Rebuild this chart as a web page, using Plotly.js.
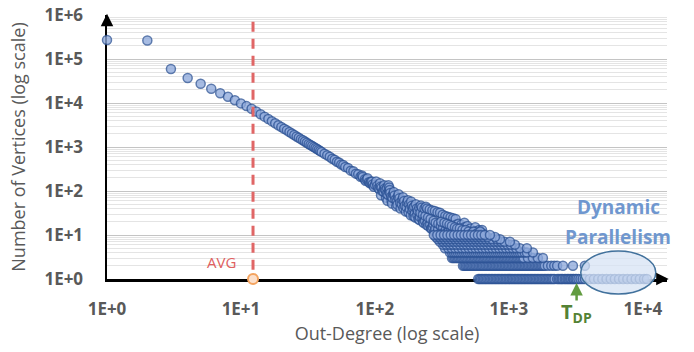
<!DOCTYPE html>
<html>
<head>
<meta charset="utf-8">
<script src="https://cdn.plot.ly/plotly-3.0.1.min.js"></script>
<style>html,body{margin:0;padding:0;background:#fff;}#chart{width:694px;height:352px;}</style>
</head>
<body>
<div id="chart"></div>
<script>
// ---- data ----
const headDegree = [1,2,3,4,5,6,7,8,9,10,11,12,13,14,15,16,17,18,19,20,21,22,23,24,25,26,27,28,29,30,31,32,33,34,35,36,37,38,39,40];
const headCount = [270000,263000,59000,37000,27500,21000,16600,13900,11500,9800,8500,7400,6400,5570,4900,4340,3870,3480,3130,2850,2600,2390,2190,2020,1870,1740,1620,1510,1420,1330,1250,1175,1110,1050,995,945,897,851,812,774];

const bandDegree = [42,44,46,48,50,52,54,56,58,60,63,66,69,72,75,78,80,81,84,85,87,88,90,92,93,95,96,98,100,
  102,104,106,108,109,110,111,112,114,116,117,118,120,121,122,123,124,125,126,127,128,129,130,132,133,134,135,137,138,140,142,144,146,147,148,150,152,154,155,158,160,162,163,165,167,170,172,174,176,178,180,182,185,186,188,190,192,194,196,198,200,202,205,207,209,211,214,215,216,218,220,224,226,228,229,230,234,236,238,240,242,245,247,249,250,256,258,260,262,265,268,270,272,274,278,280,282,284,290,293,295,297,306,308,310,320,322,324,335,337,339,350,352,354,366,368,383,385,400,402,404,420,422,424,440,442,465,467,469,490,492,515,517,560,562,600,602,630,632,
  312,330,345,360,375,395,410,430,450,475,500,530,545,580,610];
const bandCount = [700,650,600,540,515,462,445,398,390,352,335,290,282,248,240,210,225,208,184,170,182,195,158,150,162,165,141,125,139,
  165,131,115,109,150,125,80,118,98,96,135,112,104,70,86,118,60,82,135,97,120,105,90,74,60,52,70,85,95,79,63,45,60,49,74,84,68,54,40,50,63,72,41,59,46,34,43,55,62,33,50,39,28,58,46,35,41,27,44,31,25,50,40,29,35,23,42,22,26,32,47,42,23,29,20,19,40,21,27,44,17,40,19,25,16,38,17,23,14,14,36,15,18,21,12,35,14,19,11,33,13,18,32,11,16,29,15,11,27,13,11,26,16,12,25,14,24,13,23,17,12,18,13,11,17,12,19,15,11,16,12,14,11,15,12,13,11,13,11,
  20,19,18,17,16,15,14,14,13,13,12,11,12,11,12];

const row1Degrees = [590,605,620,636,652,668,685,702,720,738,756,775,795,815,835,856,877,899,922,945,968,993,1017,1043,1069,1096,1123,1151,1180,1210,1240,1271,1303,1335,1369,1403,1438,1474,1511,1549,1587,1627,1668,1709,1752,1796,1841,1887,1934,1982,2032,2083,2135,2190,2290,2350,2410,2470,2520,2600,2660,2730,2790,2860,2920,3000,3050,3130,3200,3300,3420,3550,3690,4020,4310,4640,4980,5350,5750,6170,6630,7120,7650,8220,8830,9480,10200,10700];
const row2Degrees = [454,465,477,489,501,514,526,540,553,567,581,596,611,626,641,657,674,691,708,726,744,762,781,801,821,841,862,884,906,929,952,976,1000,1025,1051,1077,1104,1132,1160,1189,1219,1249,1280,1312,1345,1379,1413,1449,1485,1522,1560,1599,1639,1680,1722,1765,1809,1854,1952,2070,2180,2290,2530,3005,3690];
const row3Degrees = [376,385,395,405,415,425,436,447,458,470,481,493,506,518,531,545,558,572,587,601,616,632,648,664,680,697,715,733,751,770,789,809,829,850,871,893,915,938,961,985,1010,1035,1061,1088,1115,1143,1171,1200,1230,1261,1290,1387,1510,1645,1793];
const row4Degrees = [363,376,389,402,416,431,446,462,478,494,512,530,548,567,587,608,629,651,674,697,722,747,773,800,828,857,887,918,950,984,1018,1054,1091,1129,1168,1209,1252,1308,1362,1511];
const row5Degrees = [333,353,374,397,420,446,472,501,531,563,596,632,670,710,753,798,846,897,950,1008,1068,1132,1208,1362];
const row6Degrees = [322,341,362,383,406,431,457,484,513,544,577,611,648,687,728,772,818,867,919,975,1033,1108];
const row7Degrees = [306,324,344,364,386,409,434,460,488,517,548,581,616,653,692,733,777,824,873,926,1017];
const row8Degrees = [295,313,331,351,372,395,418,443,470,498,528,560,593,629,667,707,749,813,858];
const row9Degrees = [285,302,320,339,360,381,404,428,454,481,510,541,573,608,644,692,787];
const row10Degrees = [275,292,309,328,347,368,390,414,438,465,493,522,554,587,622,660,722];
const rowDegreeLists = [row1Degrees,row2Degrees,row3Degrees,row4Degrees,row5Degrees,row6Degrees,row7Degrees,row8Degrees,row9Degrees,row10Degrees];
const rowCounts = [1,2,3,4,5,6,7,8,9,10];

const avgDegree = [12.3];
const avgCount = [1];
const tdpDegree = 3200;

const xTickVals = [1,10,100,1000,10000];
const xTickText = ['1E+0','1E+1','1E+2','1E+3','1E+4'];
const yTickVals = [1,10,100,1000,10000,100000,1000000];
const yTickText = ['1E+0','1E+1','1E+2','1E+3','1E+4','1E+5','1E+6'];

// ---- build traces ----
let xs = headDegree.concat(bandDegree);
let ys = headCount.concat(bandCount);
rowDegreeLists.forEach((lst,i)=>{ lst.forEach(d=>{ xs.push(d); ys.push(rowCounts[i]); }); });

const minorVals = [];
for (let e=0;e<6;e++){ for(let k=2;k<=9;k++){ minorVals.push(k*Math.pow(10,e)); } }

const gray = '#595959';
const tickFont = {family:'Open Sans, sans-serif', size:17, color:gray, weight:'bold'};
const titleFont = {family:'Open Sans, sans-serif', size:18, color:gray};

const traces = [
  {x:xs, y:ys, type:'scatter', mode:'markers', cliponaxis:false, name:'degree',
   marker:{symbol:'circle', size:9, color:'#8faadc', opacity:0.78, line:{color:'#2f5597', width:1.5}},
   hoverinfo:'x+y'},
  {x:avgDegree, y:avgCount, type:'scatter', mode:'markers', cliponaxis:false, name:'AVG',
   marker:{symbol:'circle', size:10, color:'#fbe0cc', line:{color:'#f4a460', width:2}}}
];

const layout = {
  width:694, height:352,
  margin:{l:107, r:27, t:15, b:73},
  paper_bgcolor:'#ffffff', plot_bgcolor:'#ffffff',
  showlegend:false,
  font:{family:'Open Sans, sans-serif', color:gray},
  xaxis:{type:'log', range:[0,4.18], tickmode:'array', tickvals:xTickVals, ticktext:xTickText,
    tickfont:tickFont, showgrid:false, zeroline:false, showline:true, linecolor:'#000', linewidth:2.5,
    ticks:'outside', ticklen:13, tickcolor:'rgba(0,0,0,0)', layer:'below traces',
    title:{text:'Out-Degree (log scale)', font:titleFont, standoff:9}},
  yaxis:{type:'log', range:[0,6], tickmode:'array', tickvals:yTickVals, ticktext:yTickText,
    tickfont:tickFont, showgrid:true, gridcolor:'#c4c4c4', gridwidth:1, zeroline:false,
    showline:true, linecolor:'#000', linewidth:2.5,
    ticks:'outside', ticklen:18, tickcolor:'rgba(0,0,0,0)', layer:'below traces',
    minor:{tickmode:'array', tickvals:minorVals, showgrid:true, gridcolor:'#e4e4e4', gridwidth:1, ticks:''},
    title:{text:'Number of Vertices (log scale)', font:titleFont, standoff:14}},
  shapes:[
    {type:'line', xref:'x', yref:'paper', x0:avgDegree[0], x1:avgDegree[0], y0:0.035, y1:1,
     line:{color:'#e06666', width:3, dash:'10px,7px'}, layer:'above'},
    {type:'circle', xref:'paper', yref:'paper', x0:0.846, x1:0.980, y0:-0.057, y1:0.106,
     fillcolor:'rgba(214,226,244,0.72)', line:{color:'#41719c', width:1.5}, layer:'above'}
  ],
  annotations:[
    {xref:'paper', yref:'paper', x:0, y:1.005, ax:0, ay:12, showarrow:true,
     arrowhead:2, arrowsize:1, arrowwidth:2.5, arrowcolor:'#000', text:''},
    {xref:'paper', yref:'paper', x:1.003, y:0, ax:-12, ay:0, showarrow:true,
     arrowhead:2, arrowsize:1, arrowwidth:2.5, arrowcolor:'#000', text:''},
    {xref:'paper', yref:'paper', x:0.205, y:0.065, xanchor:'center', yanchor:'middle', text:'AVG', showarrow:false,
     font:{family:'Open Sans, sans-serif', size:15, color:'#e06060'}},
    {xref:'paper', yref:'paper', x:0.9125, y:0.273, xanchor:'center', yanchor:'middle', text:'Dynamic', showarrow:false,
     font:{family:'Open Sans, sans-serif', size:19, color:'#6f97cf', weight:'bold'}},
    {xref:'paper', yref:'paper', x:0.9125, y:0.159, xanchor:'center', yanchor:'middle', text:'Parallelism', showarrow:false,
     font:{family:'Open Sans, sans-serif', size:19, color:'#6f97cf', weight:'bold'}},
    {xref:'x', yref:'paper', x:Math.log10(tdpDegree), y:-0.015, ax:0, ay:19, showarrow:true,
     arrowhead:2, arrowsize:1, arrowwidth:2.5, arrowcolor:'#629c40', text:''},
    {xref:'x', yref:'paper', x:Math.log10(tdpDegree), y:-0.128, xanchor:'center', yanchor:'middle', text:'T<sub>DP</sub>', showarrow:false,
     font:{family:'Open Sans, sans-serif', size:20, color:'#548235', weight:'bold'}}
  ]
};

Plotly.newPlot('chart', traces, layout, {displayModeBar:false, staticPlot:true});
</script>
</body>
</html>
